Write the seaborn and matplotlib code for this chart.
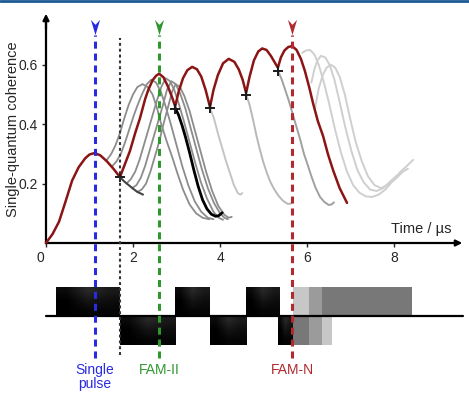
import numpy as np
import matplotlib.pyplot as plt
from matplotlib.path import Path
from matplotlib.transforms import ScaledTranslation
import seaborn as sns

sns.set_style('white')
plt.rcParams['font.family'] = ['Liberation Sans', 'DejaVu Sans']

# red curve (FAM-N build-up), time in us vs single-quantum coherence
red_t = [0.0, 0.15, 0.3, 0.45, 0.6, 0.75, 0.9, 1.0, 1.12, 1.25, 1.4, 1.55, 1.70,
         1.8, 1.93, 2.05, 2.16, 2.28, 2.35, 2.45, 2.53, 2.6, 2.7, 2.8, 2.9, 2.97,
         3.05, 3.15, 3.25, 3.36, 3.47, 3.57, 3.67, 3.77,
         3.85, 3.95, 4.07, 4.2, 4.33, 4.43, 4.52, 4.6,
         4.68, 4.78, 4.88, 4.97, 5.07, 5.17, 5.25, 5.33,
         5.4, 5.48, 5.57, 5.66, 5.76, 5.86, 5.95, 6.05, 6.14, 6.25, 6.37,
         6.48, 6.6, 6.75, 6.92]
red_v = [0.0, 0.03, 0.072, 0.14, 0.21, 0.255, 0.285, 0.298, 0.303, 0.295, 0.275, 0.25, 0.222,
         0.26, 0.31, 0.37, 0.42, 0.485, 0.515, 0.548, 0.563, 0.57, 0.558, 0.528, 0.49, 0.46,
         0.51, 0.555, 0.582, 0.593, 0.585, 0.56, 0.515, 0.458,
         0.515, 0.565, 0.605, 0.62, 0.61, 0.585, 0.55, 0.505,
         0.56, 0.615, 0.645, 0.655, 0.65, 0.63, 0.61, 0.59,
         0.625, 0.648, 0.66, 0.663, 0.65, 0.62, 0.58, 0.525, 0.47, 0.41, 0.36,
         0.3, 0.245, 0.185, 0.135]

# switching points (+)
dip_t = [1.70, 2.97, 3.77, 4.6, 5.33]
dip_v = [0.222, 0.452, 0.453, 0.497, 0.58]

# single pulse only
single_t = [1.70, 1.8, 1.9, 2.0, 2.1, 2.23]
single_v = [0.222, 0.207, 0.195, 0.183, 0.172, 0.163]

# FAM-II with other switching times
famii_t = [
    [1.40, 1.5, 1.6, 1.7, 1.8, 1.9, 2.0, 2.1, 2.22, 2.34, 2.45, 2.55, 2.65, 2.78,
     2.9, 3.02, 3.15, 3.3, 3.45, 3.6, 3.75],
    [1.52, 1.62, 1.72, 1.82, 1.92, 2.02, 2.12, 2.22, 2.32, 2.42, 2.53, 2.64, 2.75,
     2.87, 3.0, 3.13, 3.27, 3.42, 3.57, 3.72, 3.85],
    [1.85, 1.95, 2.05, 2.15, 2.25, 2.35, 2.45, 2.55, 2.65, 2.75, 2.85, 2.95, 3.05,
     3.17, 3.3, 3.43, 3.56, 3.7, 3.85, 3.97, 4.07],
    [1.98, 2.08, 2.18, 2.28, 2.38, 2.48, 2.58, 2.68, 2.78, 2.88, 2.98, 3.08, 3.2,
     3.32, 3.45, 3.58, 3.72, 3.86, 4.0, 4.1, 4.18],
    [2.1, 2.2, 2.3, 2.4, 2.5, 2.6, 2.7, 2.8, 2.9, 2.98, 3.08, 3.18, 3.3, 3.42,
     3.55, 3.68, 3.82, 3.96, 4.1, 4.2, 4.27],
]
famii_v = [
    [0.28, 0.30, 0.33, 0.37, 0.42, 0.465, 0.50, 0.525, 0.535, 0.525, 0.50, 0.455,
     0.40, 0.34, 0.29, 0.235, 0.18, 0.13, 0.10, 0.085, 0.08],
    [0.258, 0.275, 0.30, 0.34, 0.385, 0.43, 0.47, 0.505, 0.535, 0.55, 0.54, 0.51,
     0.46, 0.40, 0.33, 0.26, 0.195, 0.14, 0.105, 0.085, 0.08],
    [0.20, 0.215, 0.24, 0.28, 0.33, 0.38, 0.43, 0.48, 0.525, 0.555, 0.545, 0.515,
     0.47, 0.41, 0.34, 0.27, 0.205, 0.15, 0.105, 0.085, 0.078],
    [0.185, 0.195, 0.22, 0.26, 0.31, 0.36, 0.41, 0.46, 0.515, 0.545, 0.535, 0.505,
     0.455, 0.39, 0.32, 0.25, 0.185, 0.135, 0.10, 0.085, 0.08],
    [0.172, 0.18, 0.20, 0.24, 0.29, 0.34, 0.40, 0.455, 0.51, 0.535, 0.525, 0.495,
     0.445, 0.38, 0.31, 0.24, 0.175, 0.125, 0.095, 0.085, 0.088],
]

# FAM-II stopped at second switching point
black_t = [2.97, 3.05, 3.13, 3.21, 3.3, 3.4, 3.5, 3.6, 3.7, 3.8, 3.9, 3.97, 4.05]
black_v = [0.455, 0.43, 0.395, 0.355, 0.305, 0.245, 0.19, 0.145, 0.115, 0.097,
           0.09, 0.092, 0.102]

# stopped after later switching points
stop_t = [
    [3.77, 3.86, 3.95, 4.05, 4.14, 4.23, 4.32, 4.41, 4.47, 4.51],
    [4.6, 4.68, 4.76, 4.84, 4.92, 5.0, 5.08, 5.16, 5.25, 5.35, 5.45, 5.55, 5.62, 5.66],
    [5.33, 5.42, 5.5, 5.58, 5.66, 5.75, 5.85, 5.93, 6.0, 6.1, 6.2, 6.3, 6.4, 6.5,
     6.57, 6.62],
]
stop_v = [
    [0.455, 0.42, 0.37, 0.32, 0.275, 0.235, 0.195, 0.168, 0.163, 0.168],
    [0.50, 0.465, 0.415, 0.36, 0.313, 0.27, 0.235, 0.205, 0.18, 0.158, 0.142,
     0.132, 0.132, 0.138],
    [0.58, 0.55, 0.515, 0.48, 0.44, 0.395, 0.345, 0.30, 0.27, 0.225, 0.185, 0.155,
     0.138, 0.128, 0.13, 0.137],
]

# FAM-N with later final switching
famn_t = [
    [5.89, 5.97, 6.07, 6.17, 6.27, 6.38, 6.5, 6.64, 6.78, 6.92, 7.06, 7.2, 7.35,
     7.5, 7.65, 7.8, 7.95, 8.1, 8.2],
    [6.1, 6.17, 6.24, 6.32, 6.42, 6.52, 6.63, 6.75, 6.88, 7.02, 7.16, 7.3, 7.45,
     7.6, 7.75, 7.9, 8.05, 8.2, 8.32],
    [6.18, 6.27, 6.36, 6.45, 6.55, 6.65, 6.75, 6.87, 6.99, 7.12, 7.26, 7.4, 7.55,
     7.7, 7.85, 8.0, 8.15, 8.3, 8.44],
]
famn_v = [
    [0.64, 0.648, 0.65, 0.635, 0.60, 0.545, 0.475, 0.385, 0.305, 0.24, 0.195,
     0.17, 0.157, 0.155, 0.163, 0.18, 0.205, 0.225, 0.24],
    [0.54, 0.585, 0.615, 0.63, 0.625, 0.60, 0.55, 0.475, 0.39, 0.31, 0.245, 0.205,
     0.18, 0.175, 0.185, 0.205, 0.225, 0.24, 0.25],
    [0.45, 0.52, 0.565, 0.59, 0.60, 0.59, 0.56, 0.50, 0.42, 0.34, 0.275, 0.225,
     0.195, 0.185, 0.195, 0.215, 0.24, 0.26, 0.28],
]

# pulse sequence
pulse_start = [0.23, 1.70, 2.97, 3.77, 4.60, 5.33]
pulse_end = [1.70, 2.97, 3.77, 4.60, 5.36, 5.67]
pulse_sign = [1, -1, 1, -1, 1, -1]
pos_ghost_start = [5.67, 6.05, 6.35]
pos_ghost_end = 8.41
neg_ghost_end = [6.05, 6.35, 6.57]

# marked times
mark_names = ['Single\npulse', 'FAM-II', 'FAM-N']
mark_t = [1.13, 2.6, 5.66]
mark_colors = ['#2a2ae0', '#30962f', '#b02a30']
switch_t = 1.70

fig = plt.figure(figsize=(4.69, 3.94), dpi=100)
ax = fig.add_axes([0, 0, 1, 1])
ax.set_xlim(-46 / 43.5, (469 - 46) / 43.5)
ax.set_ylim((243 - 394) / 297, 243 / 297)

kw = dict(ax=ax, estimator=None, sort=False, legend=False)
for t, v in zip(famii_t, famii_v):
    sns.lineplot(x=t, y=v, color='#8c8c8c', lw=1.3, zorder=2, **kw)
sns.lineplot(x=single_t, y=single_v, color='#444444', lw=1.5, zorder=2, **kw)
for t, v, c in zip(stop_t, stop_v, ['#c4c4c4', '#b8b8b8', '#a0a0a0']):
    sns.lineplot(x=t, y=v, color=c, lw=1.4, zorder=2, **kw)
for t, v in zip(famn_t, famn_v):
    sns.lineplot(x=t, y=v, color='#cfcfcf', lw=1.4, zorder=2, **kw)
sns.lineplot(x=black_t, y=black_v, color='black', lw=2.0, zorder=3, **kw)
sns.lineplot(x=red_t, y=red_v, color='#8b1414', lw=1.8, zorder=4, **kw)
sns.scatterplot(x=dip_t, y=dip_v, marker='+', s=60, color='#1a1a1a',
                linewidth=1.4, zorder=5, ax=ax)
for line in ax.lines:
    line.set_solid_joinstyle('round')
    line.set_solid_capstyle('round')

# pulse sequence
base = -0.246
amp = 0.098
bars = ax.bar(pulse_start, [s * amp for s in pulse_sign],
              width=np.subtract(pulse_end, pulse_start), bottom=base,
              align='edge', color='#111111', lw=0, zorder=2)
# soft sheen on the pulse blocks
grad = np.array([[0.04, 0.16, 0.10],
                 [0.0, 0.08, 0.05],
                 [0.0, 0.02, 0.02]])
for p in bars.patches:
    x0, y0 = p.get_x(), p.get_y()
    x1, y1 = x0 + p.get_width(), y0 + p.get_height()
    im = ax.imshow(grad, cmap='gray', vmin=0, vmax=1, interpolation='bilinear',
                   extent=[x0, x1, min(y0, y1), max(y0, y1)], origin='upper',
                   aspect='auto', zorder=2.1)
    im.set_clip_path(p)
ax.bar(pos_ghost_start, amp, width=np.subtract(pos_ghost_end, pos_ghost_start),
       bottom=base, align='edge', color='black', alpha=0.22, lw=0, zorder=2)
ax.bar([5.67] * 3, -amp, width=np.subtract(neg_ghost_end, 5.67),
       bottom=base, align='edge', color='black', alpha=0.22, lw=0, zorder=2)
ax.plot([0, 9.59], [base, base], color='black', lw=1.6, zorder=3)

# marker lines with arrow heads
head = Path([(-0.6, 1), (0, -1), (0.6, 1), (0, 0.35), (-0.6, 1)],
            [Path.MOVETO, Path.LINETO, Path.LINETO, Path.LINETO, Path.CLOSEPOLY])
ax.vlines(mark_t, -0.387, 0.70, colors=mark_colors, lw=2.2,
          linestyles=(0, (2.3, 1.6)), zorder=6)
ax.vlines(switch_t, -0.377, 0.69, colors='#333333', lw=1.5,
          linestyles=(0, (1.4, 1.4)), zorder=6)
for t, c in zip(mark_t, mark_colors):
    ax.plot([t], [0.727], marker=head, ms=11, color=c, mew=0, zorder=7)
for t, n, c in zip(mark_t, mark_names, mark_colors):
    ax.text(t, -0.405, n, ha='center', va='top', color=c, fontsize=10,
            linespacing=0.95)

# axes
sns.despine(ax=ax)
ax.spines['left'].set_position(('data', 0))
ax.spines['bottom'].set_position(('data', 0))
ax.spines['left'].set_bounds(0, 0.75)
ax.spines['bottom'].set_bounds(0, 9.45)
for s in ['left', 'bottom']:
    ax.spines[s].set_linewidth(1.6)
    ax.spines[s].set_color('black')
ax.annotate('', xy=(0, 0.772), xytext=(0, 0.72),
            arrowprops=dict(arrowstyle='-|>', color='black', lw=1.6,
                            mutation_scale=9, shrinkA=0, shrinkB=0))
ax.annotate('', xy=(9.57, 0), xytext=(9.4, 0),
            arrowprops=dict(arrowstyle='-|>', color='black', lw=1.6,
                            mutation_scale=9, shrinkA=0, shrinkB=0))
ax.set_yticks([0.2, 0.4, 0.6])
ax.set_yticklabels(['0.2', '0.4', '0.6'])
ax.set_xticks([0, 2, 4, 6, 8])
ax.set_xticklabels(['0', '2', '4', '6', '8'])
ax.tick_params(direction='out', length=3, width=1, labelsize=10, pad=3,
               left=True, bottom=True)
zero = ax.get_xticklabels()[0]
zero.set_transform(zero.get_transform()
                   + ScaledTranslation(-6 / 100, 0, fig.dpi_scale_trans))
ax.set_ylabel('Single-quantum coherence', fontsize=10.5)
ax.yaxis.set_label_coords(0.042, 0.673)
ax.text(9.33, 0.047, 'Time / µs', ha='right', va='center', fontsize=10.5)

# header rule
ax.axhline(0.815, color='#1c5a94', lw=2)

fig.savefig('out.png', dpi=100)
